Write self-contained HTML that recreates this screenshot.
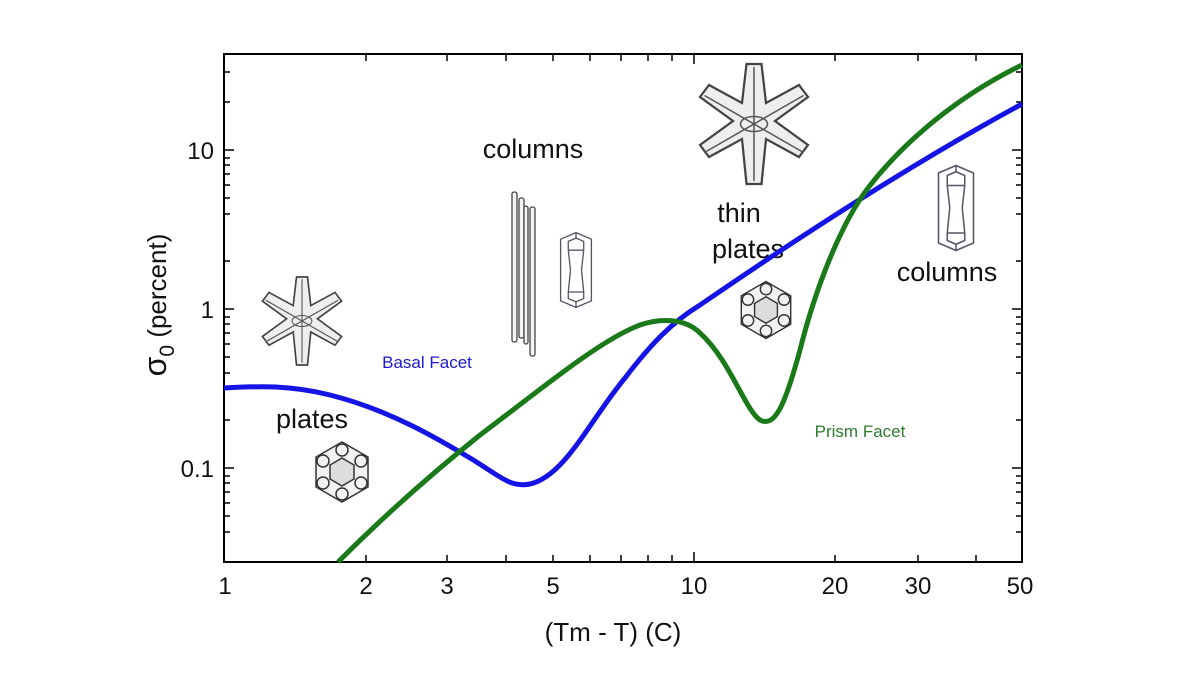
<!DOCTYPE html>
<html><head><meta charset="utf-8"><style>
html,body{margin:0;padding:0;background:#fff;}
svg{display:block;font-family:"Liberation Sans",Arial,sans-serif;}
</style></head><body>
<svg width="1200" height="675" viewBox="0 0 1200 675">
<rect width="1200" height="675" fill="#fff"/>
<defs>
<g id="flake">
 <g stroke="#444" stroke-width="1.5" fill="#eee">
  <path d="M-5,-40 L5,-40 L8,-14 L30,-26 L36,-18 L14,-2 L36,14 L30,22 L8,10 L5,40 L-5,40 L-8,10 L-30,22 L-36,14 L-14,-2 L-36,-18 L-30,-26 L-8,-14 Z"/>
 </g>
 <g stroke="#555" stroke-width="1" fill="none">
  <path d="M0,-38V38M-33,-19L33,19M-33,19L33,-19"/>
  <ellipse cx="0" cy="0" rx="9" ry="5"/>
 </g>
</g>
<g id="hexp">
 <g stroke="#333" stroke-width="1.5" fill="#f2f2f2">
  <polygon points="0,-30 26,-15 26,15 0,30 -26,15 -26,-15"/>
  <polygon points="0,-14 12,-7 12,7 0,14 -12,7 -12,-7" fill="#ddd"/>
  <circle cx="0" cy="-22" r="6"/><circle cx="19" cy="-11" r="6"/><circle cx="19" cy="11" r="6"/>
  <circle cx="0" cy="22" r="6"/><circle cx="-19" cy="11" r="6"/><circle cx="-19" cy="-11" r="6"/>
 </g>
</g>
<g id="prism">
 <g stroke="#556" stroke-width="1.2" fill="none">
  <polygon points="-14,-28 0,-34 14,-28 14,28 0,34 -14,28"/>
  <polygon points="-7,-26 0,-29 7,-26 7,-18 -7,-18"/>
  <path d="M-7,-18 L-5,0 M7,-18 L5,0 M-7,20 L-5,0 M7,20 L5,0 M-7,20 L7,20 L7,26 L0,29 L-7,26 Z M0,-34V-29 M0,29V34"/>
 </g>
</g>
</defs>

<rect x="224" y="54" width="798" height="508" fill="none" stroke="#000" stroke-width="2"/>

<g stroke="#000" stroke-width="1.5">
 <path d="M366,562v-7M447,562v-7M506,562v-7M553,562v-7M590,562v-7M621,562v-7M648,562v-7M672,562v-7M694,562v-10M835,562v-7M918,562v-7M976,562v-7"/>
 <path d="M366,54v7M447,54v7M506,54v7M553,54v7M590,54v7M621,54v7M648,54v7M672,54v7M694,54v10M835,54v7M918,54v7M976,54v7"/>
</g>
<g stroke="#000" stroke-width="1.5">
 <path d="M224,150h10M224,309h10M224,468h10M1022,150h-10M1022,309h-10M1022,468h-10"/>
 <path d="M224,72h6M224,102h6M224,158h6M224,165h6M224,174h6M224,185h6M224,198h6M224,214h6M224,261h6
  M224,317h6M224,324h6M224,333h6M224,344h6M224,357h6M224,373h6M224,420h6
  M224,476h6M224,483h6M224,492h6M224,503h6M224,516h6M224,532h6
  M1022,72h-6M1022,102h-6M1022,158h-6M1022,165h-6M1022,174h-6M1022,185h-6M1022,198h-6M1022,214h-6M1022,261h-6
  M1022,317h-6M1022,324h-6M1022,333h-6M1022,344h-6M1022,357h-6M1022,373h-6M1022,420h-6
  M1022,476h-6M1022,483h-6M1022,492h-6M1022,503h-6M1022,516h-6M1022,532h-6"/>
</g>

<g font-size="24" fill="#111" text-anchor="middle">
 <text x="225" y="594">1</text><text x="366" y="594">2</text><text x="447" y="594">3</text>
 <text x="553" y="594">5</text><text x="694" y="594">10</text><text x="835" y="594">20</text>
 <text x="918" y="594">30</text><text x="1020" y="594">50</text>
</g>
<g font-size="24" fill="#111" text-anchor="end">
 <text x="214" y="159">10</text><text x="214" y="318">1</text><text x="214" y="477">0.1</text>
</g>
<text x="613" y="641" font-size="26" text-anchor="middle" fill="#111">(Tm - T) (C)</text>
<text transform="translate(166,305) rotate(-90)" font-size="26" text-anchor="middle" fill="#111"><tspan font-size="32">σ</tspan><tspan font-size="21" dy="8">0</tspan><tspan dy="-8"> (percent)</tspan></text>

<use href="#flake" transform="translate(302,321) scale(1.1)"/>
<use href="#flake" transform="translate(754,124) scale(1.5)"/>
<use href="#hexp" x="342" y="472"/>
<use href="#hexp" transform="translate(766,310) scale(0.95)"/>
<use href="#prism" transform="translate(576,270) scale(1.1)"/>
<use href="#prism" transform="translate(956,208) scale(1.25)"/>
<g stroke="#444" stroke-width="1.3" fill="#f4f4f4">
 <rect x="512" y="192" width="5" height="150" rx="2"/>
 <rect x="519" y="198" width="5" height="140" rx="2"/>
 <rect x="524" y="206" width="4" height="138" rx="2"/>
 <rect x="530" y="207" width="5" height="149" rx="2"/>
</g>

<g font-size="27" fill="#111" text-anchor="middle">
 <text x="533" y="158">columns</text>
 <text x="739" y="222">thin</text>
 <text x="748" y="258">plates</text>
 <text x="947" y="281">columns</text>
 <text x="312" y="428">plates</text>
</g>
<text x="427" y="368" font-size="17" fill="#1a1ad0" text-anchor="middle">Basal Facet</text>
<text x="860" y="437" font-size="17" fill="#2e7a2e" text-anchor="middle">Prism Facet</text>

<path d="M224,388 C260,386 290,385 330,395 C390,410 440,440 470,458 C500,476 510,488 530,484 C565,476 590,420 625,378 C650,345 672,322 700,305 C780,250 900,170 1022,104" fill="none" stroke="#1414e6" stroke-width="5"/>
<path d="M338,562 C380,520 430,475 480,435 C540,390 600,340 640,325 C660,318 685,318 700,333 C730,360 745,410 760,420 C775,428 785,405 800,350 C815,290 840,225 868,188 C905,140 960,95 1022,65" fill="none" stroke="#1a7a1a" stroke-width="5"/>
</svg>
</body></html>
